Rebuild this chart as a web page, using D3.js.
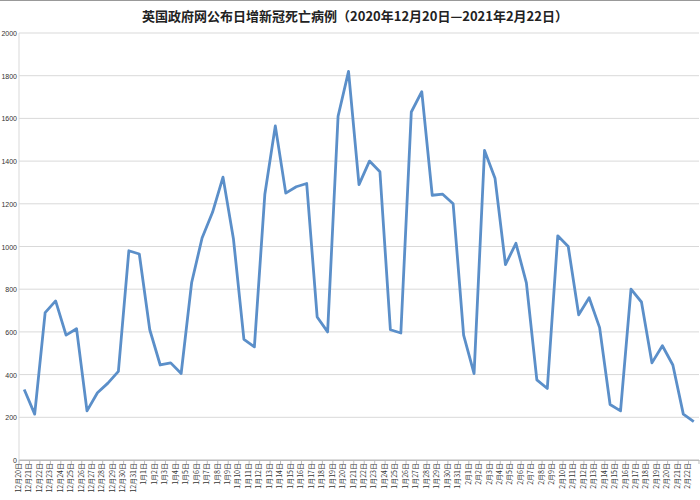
<!DOCTYPE html>
<html><head><meta charset="utf-8">
<script src="https://cdn.jsdelivr.net/npm/d3@7/dist/d3.min.js"></script>
<style>body{margin:0;background:#fff}</style></head>
<body><svg id="c" width="700" height="500"></svg>
<script>
const dates = [];
for (let d = 20; d <= 31; d++) dates.push("12月" + d + "日");
for (let d = 1; d <= 31; d++) dates.push("1月" + d + "日");
for (let d = 1; d <= 22; d++) dates.push("2月" + d + "日");
const deaths = [330,215,690,745,585,615,230,315,360,415,980,965,610,445,455,405,830,1040,1160,1325,1035,565,530,1245,1565,1250,1280,1295,670,600,1610,1820,1290,1400,1350,610,595,1630,1725,1240,1245,1200,585,405,1450,1320,915,1015,830,375,335,1050,1000,680,760,620,260,230,800,740,455,535,445,215,180];
const yTicks = [0,200,400,600,800,1000,1200,1400,1600,1800,2000];
const title = "英国政府网公布日增新冠死亡病例（2020年12月20日—2021年2月22日）";

const svg = d3.select("#c");
const L = 19, R = 699, T = 33, B = 460;
const x = d3.scaleBand().domain(dates).range([L, R]);
const y = d3.scaleLinear().domain([0, 2000]).range([B, T]);
const font = "'Noto Sans CJK SC', sans-serif";

svg.append("line").attr("x1",0).attr("x2",700).attr("y1",0.5).attr("y2",0.5).attr("stroke","#999");
svg.append("text").attr("x", 355).attr("y", 21).attr("text-anchor","middle")
  .attr("font-family", font).attr("font-size", 13).attr("font-weight","bold").attr("fill","#222").text(title);

const gy = svg.append("g");
yTicks.forEach(t => {
  gy.append("line").attr("x1", L).attr("x2", R).attr("y1", y(t)).attr("y2", y(t))
    .attr("stroke", t === 0 ? "#bbb" : "#d9d9d9").attr("stroke-width", 1);
  gy.append("text").attr("x", 17).attr("y", y(t) + 3).attr("text-anchor","end")
    .attr("font-family","Arial, sans-serif").attr("font-size", 7).attr("fill","#333").text(t);
});
svg.append("line").attr("x1", L).attr("x2", L).attr("y1", T).attr("y2", B).attr("stroke","#d9d9d9");

const xa = d3.axisBottom(x).tickSize(0);
const gx = svg.append("g").attr("transform", `translate(0,${B})`).call(xa);
gx.select(".domain").attr("stroke","#bbb");
gx.selectAll("text").attr("font-family", font).attr("font-size", 7).attr("fill","#333")
  .attr("transform","rotate(-90)").attr("text-anchor","end").attr("dx","-3").attr("dy","-3.5").attr("y",0).attr("x",0);
dates.concat([null]).forEach((d, i) => {
  const xx = L + i * x.step();
  svg.append("line").attr("x1", xx).attr("x2", xx).attr("y1", B).attr("y2", B + 4).attr("stroke","#bbb");
});

const line = d3.line().x((d, i) => x(dates[i]) + x.bandwidth() / 2).y(d => y(d));
svg.append("path").datum(deaths).attr("d", line).attr("fill","none")
  .attr("stroke","#5b8fc9").attr("stroke-width", 2.8).attr("stroke-linejoin","round");
</script></body></html>
